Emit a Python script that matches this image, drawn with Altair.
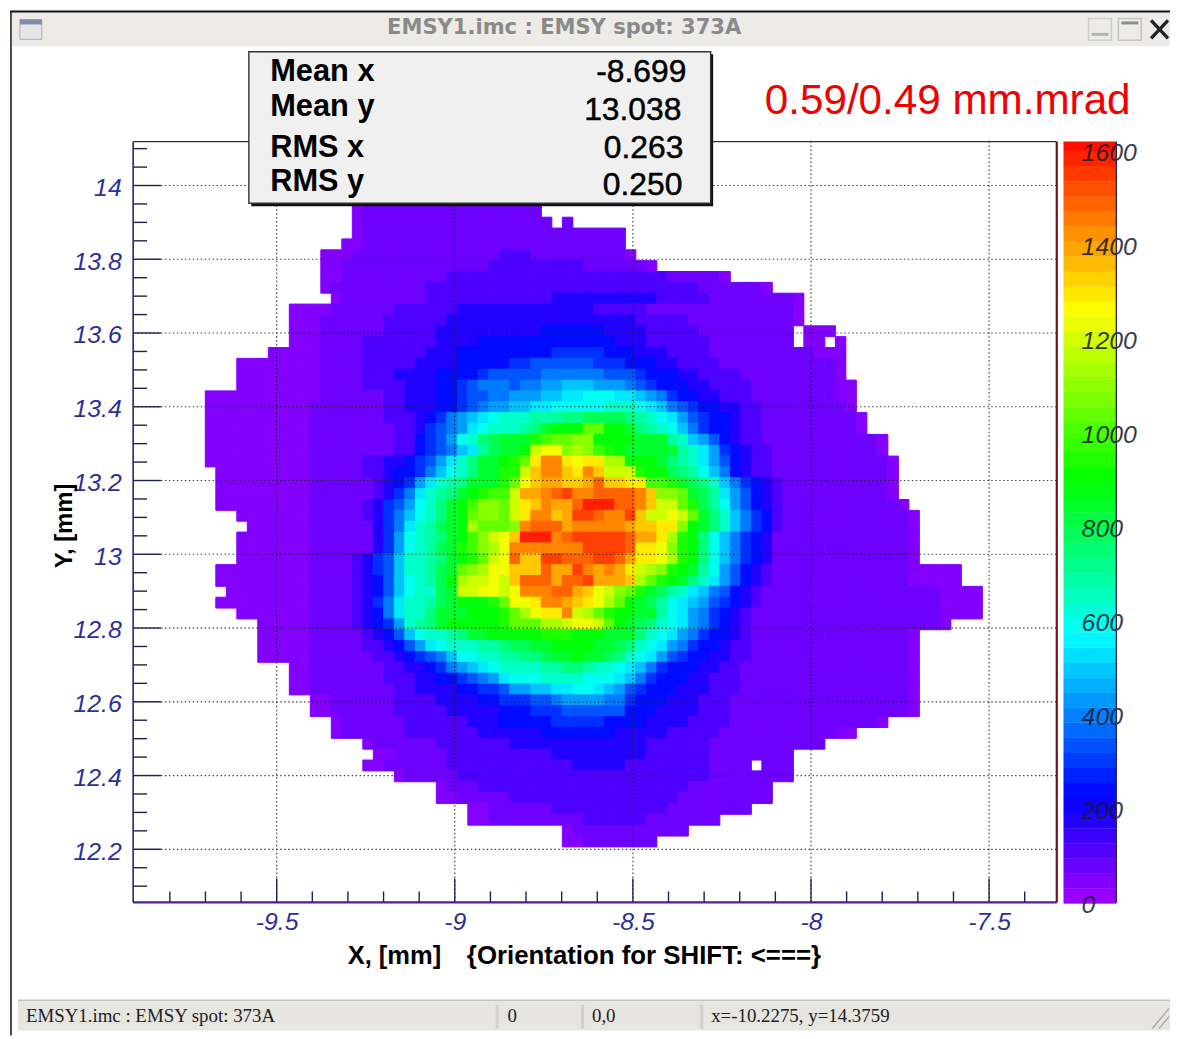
import altair as alt
import pandas as pd

alt.data_transformers.disable_max_rows()

# Heat map: one string per row, top to bottom, one character per cell
# ("." = empty, else level code; "|" only keeps columns readable).
LEVEL_CODES = "0123456789abcdefghijklmnopqrstuvw"
LOW_LEVEL_VALUES = [30, 60, 105, 165]
HEAT_ROWS = [
"..........|....111111|1111111111|11",
"..........|....011111|1111111111|11",
"..........|....011111|1111111111|111.1",
"..........|....011111|1111111111|1111111111",
"..........|...0011111|1111111111|1111111111",
"..........|.000111111|1111111122|2111111111|0",
"..........|.001111111|1111111222|2222221111|110",
"..........|.001111111|1112222222|2222222222|2222111110",
"..........|.011111111|1222222222|2222222222|2222222111|1110",
"..........|..01111111|1222222222|2223333333|3332222211|1111110",
"........00|0011111122|2222333333|3333333222|2211111111|1111110",
"........00|0111111222|2223333333|3333333333|3222221111|1111110",
"........00|0111111222|2233333333|3344444433|3322222111|111111.000",
"........00|0111122222|2233334444|4444444443|3322222211|111111.00.|0",
"......0000|0111122222|2333444444|4445555544|4333222211|1111111100|0",
"...0000000|0111122222|3333444445|5666666555|4443322221|1111111111|0",
"...0000000|0111122233|3344445666|6677777766|6544433222|2111111111|0",
"...0000000|0111122223|3344567776|7788999888|7654443322|2211111111|00",
"0000000000|0111111223|3344566778|8899aabbba|a987544332|2211111111|00",
"0000000000|1111111223|3344567889|9aabbbbbcc|cba9765443|3221111111|10",
"0000000000|1111111222|345789abcc|cdddeeffff|edcba86544|3221111111|110",
"0000000000|1111111122|35678abccc|deghhhkkhh|gedcb97544|3221111111|110",
"0000000000|1111111122|4568bcefgg|gijkkllhhh|hgggdc9864|3221111111|11110",
"0000000000|1111111122|45679adfgg|hnoolmljih|gggggdca85|4322111111|11110",
"0000000000|1111122334|568acegghi|kpsspoppmm|hhhgedca86|4322111111|111110",
".000000000|1111122344|579bceggii|nqssqpsqnn|nihhfedb97|4322111111|111110",
".000000000|1111112345|8acdegggik|oqrrqqrtqq|ppjjigfec9|7543211111|111110",
".000000000|1111112357|acdeghijjn|rrstussttt|tsqllkgfda|8643211111|111110",
".000000000|1111123568|bceghjllkn|pqsrrtvvvt|tsqnnkifdb|8643211111|1111110",
"...0000000|1111123579|bceghkllkn|pssqruutss|uqnnonkgec|9754211111|11111110",
"....000000|111111357a|cdfghmkkkl|stttrsssss|rqqpplhgec|9754211111|11111110",
"...0000000|111111358b|cdeghjlnoq|vvvstuuuuu|trrpmiheb9|7543111111|11111110",
"...0000000|111111358b|cdfgijlmos|ssssssuuuu|tppoliheb9|7543111111|11111110",
"...0000000|111123569c|cdeghiknot|qquutttuut|rppomiheb9|7543111111|11111110",
".000000000|111123569c|cdfgklmooq|qqtrrusrsr|pnmlihgdb8|6432111111|1111111000|00",
".000000000|111123469b|cdfhmnnonq|tttrtturrr|qmkihgeca8|6432111111|1111111000|00",
"..00000000|111123469b|ccfgnnoono|sssttrqonl|kigfdca976|4321111111|1111111111|0000",
".000000000|11112357ac|cdfghhhiko|opssrqpomk|hgfdba9865|4321111111|1111111111|0000",
"...0000000|11112347ac|ceggghhhik|moppsnmkih|hggdba8754|3211111111|1111111111|0000",
".....00000|111123458c|deghhhhhik|kkmmnoonkh|gfecba8754|3211111111|1111111111|0",
".....00000|1111123469|bccdegghhh|hhiiihhhgg|gecba87544|3211111111|11111110",
".....00000|1111122346|8abcccddef|fgghhhhggf|ecba875443|2211111111|11111110",
".....00000|1111112234|5679bbccdd|eefgghggfe|cba8654433|2211111111|11111110",
"........00|1111111223|345789abcc|ccddeedccb|a975444332|2111111111|11111110",
"........00|1111111222|33445678ab|bbccccbbba|9754443322|2111111111|11111110",
"........00|1111111122|3333445568|899aabba98|6544433322|2111111111|11111110",
"..........|0011111122|2233334455|5667888877|5444333222|1111111111|11111110",
"..........|0011111122|2223333344|4555666666|4443333222|1111111111|11111110",
"..........|..01111112|2222233344|4445555544|4433332222|1111111111|11110",
"..........|..01111112|2222223333|3344444443|3333222221|1111111111|00",
"..........|.....01111|1122222223|3333333333|3322222211|111111111",
"..........|......0011|1112222222|2223333333|3322222211|111111",
"..........|.....00111|1112222222|2222233333|2222222211|11.111",
"..........|........01|1111222222|2222222222|2222222211|111111",
"..........|..........|..01112222|2222222222|2222221111|1111",
"..........|..........|..00111112|2222222222|2222211111|1111",
"..........|..........|.....00111|1112222222|2222111111|11",
"..........|..........|.....00111|1111112222|221111111",
"..........|..........|..........|....011111|111111",
"..........|..........|..........|....001111|111",
]
X_TICKS = [-9.5, -9, -8.5, -8, -7.5]
Y_TICKS = [12.2, 12.4, 12.6, 12.8, 13, 13.2, 13.4, 13.6, 13.8, 14]
X_MINOR = [-9.8, -9.7, -9.6, -9.4, -9.3, -9.2, -9.1, -8.9, -8.8, -8.7, -8.6, -8.4, -8.3, -8.2, -8.1, -7.9, -7.8, -7.7, -7.6, -7.4]
Y_MINOR = [12.1, 12.15, 12.25, 12.3, 12.35, 12.45, 12.5, 12.55, 12.65, 12.7, 12.75, 12.85, 12.9, 12.95, 13.05, 13.1, 13.15,
           13.25, 13.3, 13.35, 13.45, 13.5, 13.55, 13.65, 13.7, 13.75, 13.85, 13.9, 13.95, 14.05, 14.1]
BAR_TICKS = [0, 200, 400, 600, 800, 1000, 1200, 1400, 1600]
BAR_LEVELS = list(range(0, 1620, 32))
STATS_NAMES = ["Mean x", "Mean y", "RMS x", "RMS y"]
STATS_VALUES = ["-8.699", "13.038", "0.263", "0.250"]

X0, Y0, W, H = 134, 139, 930, 766
RIGHT = 1178
CELL_X0, CELL_DX = -9.7004, 0.02948
CELL_Y0, CELL_DY = 12.2065, 0.02944
TICK_BLUE = "#2a2f9c"
SANS = "Liberation Sans"


def level_value(ch):
    i = LEVEL_CODES.index(ch)
    return LOW_LEVEL_VALUES[i] if i < len(LOW_LEVEL_VALUES) else i * 50 + 25


cells = []
for i, row in enumerate(HEAT_ROWS):
    k = len(HEAT_ROWS) - 1 - i
    for c, ch in enumerate(row.replace("|", "")):
        if ch != ".":
            cells.append({
                "x0": CELL_X0 + c * CELL_DX, "x1": CELL_X0 + (c + 1) * CELL_DX,
                "y0": CELL_Y0 + k * CELL_DY, "y1": CELL_Y0 + (k + 1) * CELL_DY,
                "v": level_value(ch),
            })
cells = pd.DataFrame(cells)

xs = alt.Scale(domain=[-9.903, -7.310], range=[0, W], nice=False, zero=False)
ys = alt.Scale(domain=[12.056, 14.119], range=[H, 0], nice=False, zero=False)
cs = alt.Scale(domain=[0, 210, 555, 885, 1244, 1620],
               range=["#9900ff", "#0000ff", "#00ffff", "#00ff00", "#ffff00", "#ff0000"],
               interpolate="rgb", clamp=True)
bar_y = alt.Scale(domain=[0, 1620], range=[H + 1, 0], nice=False, zero=False)

x_axis = alt.Axis(values=X_TICKS, title=None, domain=False, ticks=False, grid=False,
                  labelFont=SANS, labelFontSize=25, labelFontStyle="italic", labelColor=TICK_BLUE,
                  labelPadding=7, labelExpr="'' + datum.value")

heat = alt.Chart(cells).mark_rect(strokeWidth=1).encode(
    x=alt.X("x0:Q", scale=xs, axis=x_axis),
    x2="x1:Q",
    y=alt.Y("y0:Q", scale=ys, axis=alt.Axis(values=Y_TICKS, title=None, domain=False, ticks=False, grid=False,
            labelFont=SANS, labelFontSize=25, labelFontStyle="italic", labelColor=TICK_BLUE,
            labelPadding=12, labelOffset=2, labelExpr="'' + datum.value")),
    y2="y1:Q",
    color=alt.Color("v:Q", scale=cs, legend=None),
    stroke=alt.Stroke("v:Q", scale=cs, legend=None),
)


def px_x(v):
    return alt.value(v - X0)


def px_y(v):
    return alt.value(v - Y0)


def box(x0, y0, x1, y1, fill, stroke=None, sw=0, **kw):
    mk = dict(fill=fill, **kw)
    if stroke:
        mk.update(stroke=stroke, strokeWidth=sw)
    return alt.Chart().mark_rect(**mk).encode(x=px_x(x0), x2=px_x(x1), y=px_y(y0), y2=px_y(y1))


def line(x0, y0, x1, y1, color, sw=1, **kw):
    return alt.Chart().mark_rule(color=color, strokeWidth=sw, **kw).encode(
        x=px_x(x0), x2=px_x(x1), y=px_y(y0), y2=px_y(y1))


def label(s, x, y, size, color="#000000", font=SANS, weight="normal", align="left", **kw):
    return alt.Chart().mark_text(text=s, font=font, fontSize=size, fontWeight=weight, color=color,
                                 align=align, baseline="middle", **kw).encode(x=px_x(x), y=px_y(y))


DOT = dict(strokeDash=[1.5, 2.5])
xgrid = alt.Chart(pd.DataFrame({"x": X_TICKS})).mark_rule(color="#222222", strokeWidth=1.2, opacity=0.85, **DOT).encode(
    x=alt.X("x:Q", scale=xs, axis=x_axis), y=alt.value(0), y2=alt.value(H))
ygrid = alt.Chart(pd.DataFrame({"y": Y_TICKS})).mark_rule(color="#222222", strokeWidth=1.2, opacity=0.85, **DOT).encode(
    y=alt.Y("y:Q", scale=ys, axis=None), x=alt.value(0), x2=alt.value(W))
xmajor = alt.Chart(pd.DataFrame({"x": X_TICKS})).mark_rule(color="#1c2050", strokeWidth=1.4).encode(
    x=alt.X("x:Q", scale=xs, axis=x_axis), y=alt.value(H), y2=alt.value(H - 24))
xminor = alt.Chart(pd.DataFrame({"x": X_MINOR})).mark_rule(color="#1c2050", strokeWidth=1.4).encode(
    x=alt.X("x:Q", scale=xs, axis=x_axis), y=alt.value(H), y2=alt.value(H - 11))
ymajor = alt.Chart(pd.DataFrame({"y": Y_TICKS})).mark_rule(color="#1c2050", strokeWidth=1.4).encode(
    y=alt.Y("y:Q", scale=ys, axis=None), x=alt.value(0), x2=alt.value(28))
yminor = alt.Chart(pd.DataFrame({"y": Y_MINOR})).mark_rule(color="#1c2050", strokeWidth=1.4).encode(
    y=alt.Y("y:Q", scale=ys, axis=None), x=alt.value(0), x2=alt.value(14))

bar_df = pd.DataFrame({"v": BAR_LEVELS, "v1": [min(b + 32, 1620) for b in BAR_LEVELS]})
bar = alt.Chart(bar_df).mark_rect(strokeWidth=0.4).encode(
    x=px_x(1071), x2=px_x(1124),
    y=alt.Y("v:Q", scale=bar_y, axis=None), y2="v1:Q",
    color=alt.Color("v:Q", scale=cs, legend=None),
    stroke=alt.Stroke("v:Q", scale=cs, legend=None),
)
bar_labels = alt.Chart(pd.DataFrame({"t": BAR_TICKS})).mark_text(
    font=SANS, fontSize=25, fontStyle="italic", color="#1a1a30", opacity=0.85, align="left", baseline="middle", dy=2
).encode(x=px_x(1089), y=alt.Y("t:Q", scale=bar_y, axis=None), text=alt.Text("t:Q", format="d"))

NUM = dict(align="right", stroke="#000000", strokeWidth=0.5)

layers = [
    heat, xgrid, ygrid, xmajor, xminor, ymajor, yminor,
    line(134, 139, 1064, 139, "#333333", 1.5),
    line(1064, 139, 1064, 905, "#6b1518", 2.2),
    line(134, 905, 1064, 905, "#5a1a8c", 2.2),
    line(134, 139, 134, 905, "#20287a", 1.6),
    bar, bar_labels,
    line(1124, 139, 1124, 905, "#2a2a50", 1.4),
    # axis titles
    label("X, [mm]", 350, 959, 25.7, weight="bold"),
    label("{Orientation for SHIFT: <===}", 470, 959, 26, weight="bold"),
    label("Y, [mm]", 65, 526, 24, weight="bold", angle=270, align="center"),
    # statistics box
    box(253, 51, 718, 204, "#111111"),
    box(250.5, 48.5, 715.5, 201, "#f0f0f0", "#333333", 1.4),
    label(STATS_NAMES[0], 272, 69, 31, weight="bold"),
    label(STATS_NAMES[1], 272, 104, 31, weight="bold"),
    label(STATS_NAMES[2], 272, 145, 31, weight="bold"),
    label(STATS_NAMES[3], 272, 180, 31, weight="bold"),
    label(STATS_VALUES[0], 691, 69, 32, **NUM),
    label(STATS_VALUES[1], 686, 107, 32, **NUM),
    label(STATS_VALUES[2], 688, 145, 32, **NUM),
    label(STATS_VALUES[3], 687, 183, 32, **NUM),
    # red annotation
    label("0.59/0.49 mm.mrad", 770, 98, 42.5, color="#f00000"),
    # window title bar
    box(12, 9, RIGHT, 43, "#ecebe6"),
    line(10, 8, RIGHT, 8, "#111111", 2),
    line(11, 8, 11, 1039, "#222222", 1.6),
    box(20, 16, 42, 36, "#e4e6ea", "#a9b0bd", 1),
    box(20, 16, 42, 21, "#7f8da3"),
    label("EMSY1.imc : EMSY spot: 373A", 568, 25, 21.2, color="#8a8a8a", font="DejaVu Sans", weight="bold", align="center"),
    box(1096, 15, 1119, 37, "#ecebe6", "#cfcfca", 1.5),
    line(1099, 31, 1116, 31, "#b5b5b0", 3),
    box(1126, 15, 1149, 37, "#ecebe6", "#c4c4c0", 1.5),
    box(1129, 18, 1146, 21, "#8c8c88"),
    line(1159, 17, 1176, 35, "#222222", 3.4),
    line(1176, 17, 1159, 35, "#222222", 3.4),
    # status bar
    box(18, 1004, RIGHT, 1034, "#e6e5e0"),
    line(18, 1003.5, RIGHT, 1003.5, "#c4c4c0", 1.5),
    label("EMSY1.imc : EMSY spot: 373A", 26, 1019, 19, color="#222222", font="Liberation Serif"),
    box(499, 1008, 502, 1032, "#d2d2cc"),
    label("0", 511, 1019, 19, color="#222222", font="Liberation Serif"),
    box(585, 1008, 588, 1032, "#d2d2cc"),
    label("0,0", 596, 1019, 19, color="#222222", font="Liberation Serif"),
    box(705, 1008, 708, 1032, "#d2d2cc"),
    label("x=-10.2275, y=14.3759", 716, 1019, 19, color="#222222", font="Liberation Serif"),
    line(1160, 1032, 1177, 1012, "#a8a8a4", 1.3),
    line(1167, 1032, 1177, 1020, "#a8a8a4", 1.3),
]

chart = alt.layer(*layers).resolve_scale(y="independent").properties(
    width=W, height=H, autosize="none",
    padding={"left": X0 - 8, "top": Y0 - 8, "right": RIGHT - 8 - (X0 - 8) - W, "bottom": 1031 - (Y0 - 8) - H},
    background="#ffffff",
).configure_view(stroke=None)

chart.save("out.html", embed_options={"renderer": "svg", "actions": False})
